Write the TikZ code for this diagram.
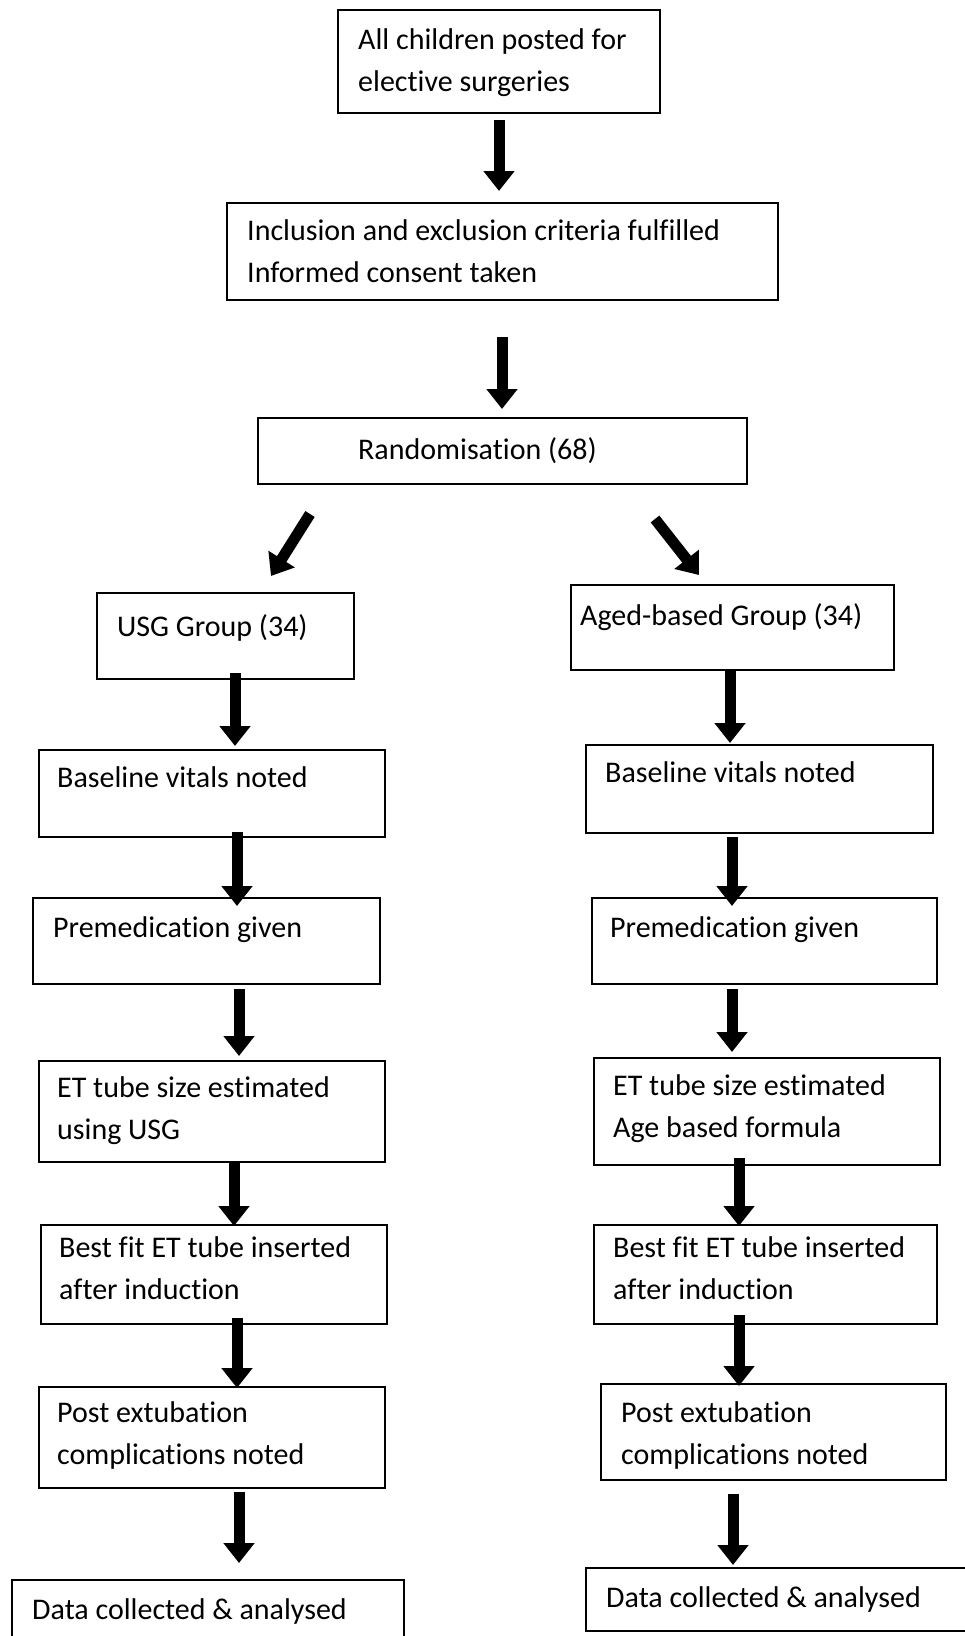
\documentclass[tikz,border=0pt]{standalone}
\usepackage{fontspec}
\setmainfont[Ligatures=CommonOff]{Carlito}
\usetikzlibrary{arrows.meta}
\begin{document}
\begin{tikzpicture}[x=1pt,y=-1pt,
 box/.style={draw=black,line width=2pt,inner sep=0pt,anchor=north west},
 txt/.style={font=\fontsize{30}{42}\selectfont,align=left,inner sep=0pt,anchor=north west},
 arr/.style={line width=11pt,-{Triangle[width=30pt,length=20pt]}}]
\useasboundingbox (0,0) rectangle (964,1636);
% boxes
\node[box,minimum width=322pt,minimum height=103pt] (b1) at (337,9) {};
\node[box,minimum width=551pt,minimum height=97pt] (b2) at (226,202) {};
\node[box,minimum width=489pt,minimum height=66pt] (b3) at (257,417) {};
\node[box,minimum width=257pt,minimum height=86pt] (usg) at (96,592) {};
\node[box,minimum width=323pt,minimum height=85pt] (aged) at (570,584) {};
\node[box,minimum width=346pt,minimum height=87pt] (bl1) at (38,749) {};
\node[box,minimum width=347pt,minimum height=88pt] (br1) at (585,744) {};
\node[box,minimum width=347pt,minimum height=86pt] (bl2) at (32,897) {};
\node[box,minimum width=345pt,minimum height=86pt] (br2) at (591,897) {};
\node[box,minimum width=346pt,minimum height=101pt] (bl3) at (38,1060) {};
\node[box,minimum width=346pt,minimum height=107pt] (br3) at (593,1057) {};
\node[box,minimum width=346pt,minimum height=99pt] (bl4) at (40,1224) {};
\node[box,minimum width=343pt,minimum height=99pt] (br4) at (593,1224) {};
\node[box,minimum width=346pt,minimum height=101pt] (bl5) at (38,1386) {};
\node[box,minimum width=345pt,minimum height=96pt] (br5) at (600,1383) {};
\node[box,minimum width=392pt,minimum height=80pt] (bl6) at (11,1579) {};
\node[box,minimum width=390pt,minimum height=63pt] (br6) at (585,1567) {};
% texts
\node[txt] (t1) at (358,28) {All children posted for\\elective surgeries};
\node[txt] (t2) at (247,219) {Inclusion and exclusion criteria fulfilled\\Informed consent taken};
\node[txt] (t3) at (358,437) {Randomisation (68)};
\node[txt] (tusg) at (117,614) {USG Group (34)};
\node[txt] (taged) at (580,603) {Aged-based Group (34)};
\node[txt] (tl1) at (57,766) {Baseline vitals noted};
\node[txt] (tr1) at (605,761) {Baseline vitals noted};
\node[txt] (tl2) at (53,916) {Premedication given};
\node[txt] (tr2) at (610,916) {Premedication given};
\node[txt] (tl3) at (57,1076) {ET tube size estimated\\using USG};
\node[txt] (tr3) at (613,1074) {ET tube size estimated\\Age based formula};
\node[txt] (tl4) at (59,1236) {Best fit ET tube inserted\\after induction};
\node[txt] (tr4) at (613,1236) {Best fit ET tube inserted\\after induction};
\node[txt] (tl5) at (57,1401) {Post extubation\\complications noted};
\node[txt] (tr5) at (621,1401) {Post extubation\\complications noted};
\node[txt] (tl6) at (32,1598) {Data collected \& analysed};
\node[txt] (tr6) at (606,1586) {Data collected \& analysed};
% arrow end points
\coordinate (a1s) at (499,120); \coordinate (a1e) at (499,191);
\coordinate (a2s) at (502,337); \coordinate (a2e) at (502,409);
\coordinate (dls) at (310,514); \coordinate (dle) at (271,576);
\coordinate (drs) at (655,519); \coordinate (dre) at (699,575);
\coordinate (l1s) at (235,673); \coordinate (l1e) at (235,746);
\coordinate (l2s) at (237,832); \coordinate (l2e) at (237,906);
\coordinate (l3s) at (239,989); \coordinate (l3e) at (239,1056);
\coordinate (l4s) at (234,1162); \coordinate (l4e) at (234,1226);
\coordinate (l5s) at (237,1318); \coordinate (l5e) at (237,1388);
\coordinate (l6s) at (239,1492); \coordinate (l6e) at (239,1563);
\coordinate (r1s) at (730,671); \coordinate (r1e) at (730,743);
\coordinate (r2s) at (732,837); \coordinate (r2e) at (732,906);
\coordinate (r3s) at (732,989); \coordinate (r3e) at (732,1052);
\coordinate (r4s) at (739,1158); \coordinate (r4e) at (739,1226);
\coordinate (r5s) at (739,1315); \coordinate (r5e) at (739,1386);
\coordinate (r6s) at (733,1494); \coordinate (r6e) at (733,1565);
\foreach \a in {a1,a2,dl,dr,l1,l2,l3,l4,l5,l6,r1,r2,r3,r4,r5,r6}
  \draw[arr] (\a s) -- (\a e);
\end{tikzpicture}
\end{document}
